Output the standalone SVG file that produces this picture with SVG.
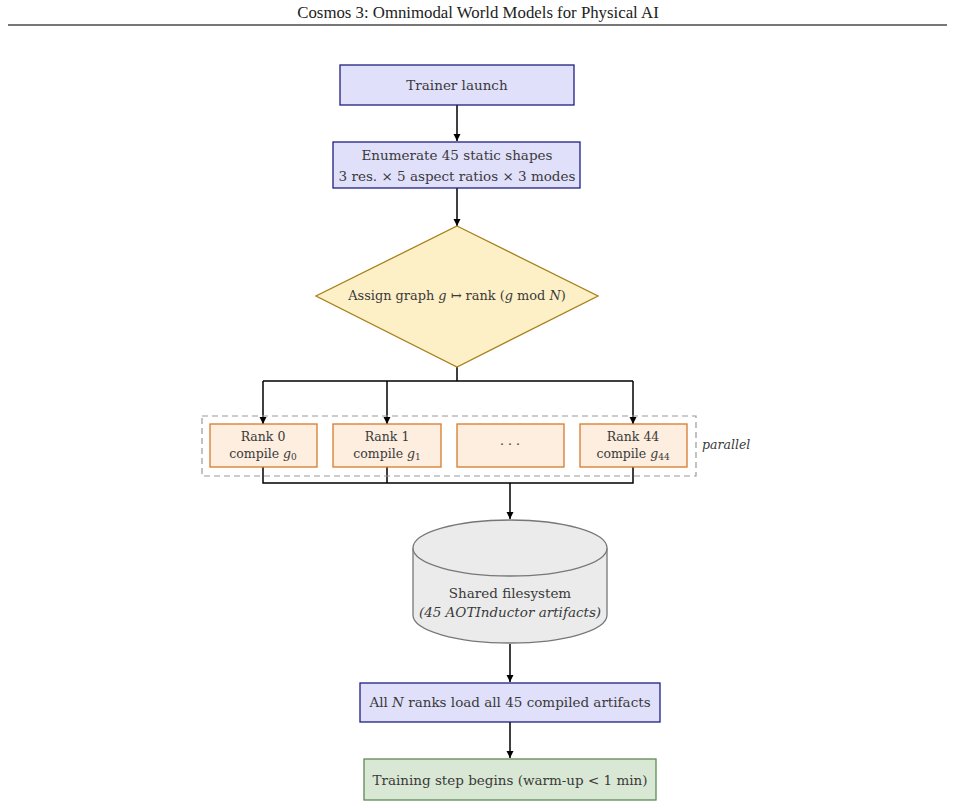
<svg xmlns="http://www.w3.org/2000/svg" width="955" height="808" viewBox="0 0 955 808">
<defs>
<style>
text{font-family:"DejaVu Serif","Liberation Serif",serif;fill:#3a3a3a;text-anchor:middle}
.t{font-size:13.5px}
.s{font-size:12.5px}
.i{font-style:italic}
.blue{fill:#e0e0fb;stroke:#1f1f82;stroke-width:1.3}
.rank{fill:#fdeedf;stroke:#d67a2c;stroke-width:1.3}
.conn{fill:none;stroke:#000;stroke-width:1.5}
</style>
<marker id="ah" viewBox="0 0 10 10" refX="10" refY="5" markerWidth="7" markerHeight="8" markerUnits="userSpaceOnUse" orient="auto"><path d="M0,0L10,5L0,10z" fill="#000"/></marker>
</defs>
<rect width="955" height="808" fill="#fff"/>
<g id="header">
<text x="478" y="18" style="font-family:'Liberation Serif',serif;font-size:16.8px;fill:#222">Cosmos 3: Omnimodal World Models for Physical AI</text>
<line x1="8" y1="25" x2="947" y2="25" stroke="#777" stroke-width="2"/>
</g>
<g id="connectors">
<line class="conn" x1="457" y1="105" x2="457" y2="141" marker-end="url(#ah)"/>
<line class="conn" x1="457" y1="188" x2="457" y2="226" marker-end="url(#ah)"/>
<path class="conn" d="M457,367V381M263,381H633"/>
<line class="conn" x1="263" y1="381" x2="263" y2="424" marker-end="url(#ah)"/>
<line class="conn" x1="387" y1="381" x2="387" y2="424" marker-end="url(#ah)"/>
<line class="conn" x1="633" y1="381" x2="633" y2="424" marker-end="url(#ah)"/>
<path class="conn" d="M263,467V483H633V467M387,467V483"/>
<line class="conn" x1="510" y1="483" x2="510" y2="519" marker-end="url(#ah)"/>
<line class="conn" x1="510" y1="644" x2="510" y2="682" marker-end="url(#ah)"/>
<line class="conn" x1="510" y1="722" x2="510" y2="758" marker-end="url(#ah)"/>
</g>
<g id="trainer">
<rect class="blue" x="340" y="65" width="234" height="40"/>
<text class="t" x="457" y="90">Trainer launch</text>
</g>
<g id="enumerate">
<rect class="blue" x="333" y="142" width="247" height="46"/>
<text class="t" x="457" y="160">Enumerate 45 static shapes</text>
<text class="t" x="457" y="181">3 res. × 5 aspect ratios × 3 modes</text>
</g>
<g id="assign">
<polygon points="457,226 598,296 457,367 316,296" fill="#fdefc6" stroke="#a8801a" stroke-width="1.3"/>
<text x="457" y="300" style="font-size:12.9px">Assign graph <tspan class="i">g</tspan> ↦ rank (<tspan class="i">g</tspan> mod <tspan class="i">N</tspan>)</text>
</g>
<g id="parallel">
<rect x="202" y="416" width="494" height="60" fill="none" stroke="#999" stroke-width="1.2" stroke-dasharray="6,4"/>
<text class="s i" x="702" y="449" style="text-anchor:start">parallel</text>
</g>
<g id="rank0">
<rect class="rank" x="210" y="424" width="107" height="43"/>
<text class="s" x="263" y="441">Rank 0</text>
<text class="s" x="263" y="458">compile <tspan class="i">g</tspan><tspan font-size="9" dy="2">0</tspan></text>
</g>
<g id="rank1">
<rect class="rank" x="333" y="424" width="108" height="43"/>
<text class="s" x="387" y="441">Rank 1</text>
<text class="s" x="387" y="458">compile <tspan class="i">g</tspan><tspan font-size="9" dy="2">1</tspan></text>
</g>
<g id="rankdots">
<rect class="rank" x="457" y="424" width="107" height="43"/>
<text class="s" x="510" y="449">· · ·</text>
</g>
<g id="rank44">
<rect class="rank" x="580" y="424" width="107" height="43"/>
<text class="s" x="633" y="441">Rank 44</text>
<text class="s" x="633" y="458">compile <tspan class="i">g</tspan><tspan font-size="9" dy="2">44</tspan></text>
</g>
<g id="filesystem">
<path d="M413,548V615A97,28 0 0 0 607,615V548" fill="#ebebeb" stroke="#777" stroke-width="1.3"/>
<ellipse cx="510" cy="548" rx="97" ry="28" fill="#ebebeb" stroke="#777" stroke-width="1.3"/>
<text class="t" x="510" y="598">Shared filesystem</text>
<text class="t i" x="510" y="617">(45 AOTInductor artifacts)</text>
</g>
<g id="loadall">
<rect class="blue" x="360" y="683" width="300" height="39"/>
<text class="t" x="510" y="707">All <tspan class="i">N</tspan> ranks load all 45 compiled artifacts</text>
</g>
<g id="training">
<rect x="364" y="759" width="292" height="41" fill="#d9e8d4" stroke="#5e8a55" stroke-width="1.3"/>
<text class="t" x="510" y="785">Training step begins (warm-up &lt; 1 min)</text>
</g>
</svg>
